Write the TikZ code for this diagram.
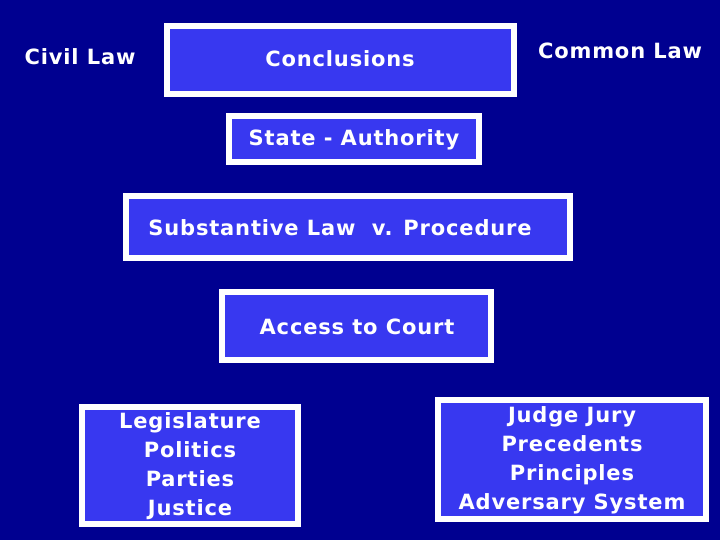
\documentclass[tikz,border=0pt]{standalone}
\usepackage{fontspec}
\setmainfont{DejaVu Sans}[LetterSpace=4]
\definecolor{bg}{HTML}{000090}
\definecolor{boxfill}{HTML}{3838F0}
\begin{document}
\begin{tikzpicture}[x=1pt,y=-1pt,
  bx/.style={draw=white,line width=6pt,fill=boxfill},
  tx/.style={text=white,font=\fontsize{21}{29}\selectfont\bfseries,align=center,inner sep=0pt}]
\fill[bg] (0,0) rectangle (720,540);
\useasboundingbox (0,0) rectangle (720,540);
\draw[bx] (167,26) rectangle (514,94);
\draw[bx] (229,116) rectangle (479,162);
\draw[bx] (126,196) rectangle (570,258);
\draw[bx] (222,292) rectangle (491,360);
\draw[bx] (82,407) rectangle (298,524);
\draw[bx] (438,400) rectangle (706,519);
\node[tx] (civil) at (80,57) {Civil Law};
\node[tx] (concl) at (340,59) {Conclusions};
\node[tx] (common) at (620,51) {Common Law};
\node[tx] (state) at (354,140) {State - Authority};
\node[tx] (subst) at (340,228) {Substantive Law\ \ v. Procedure};
\node[tx] (access) at (357,327) {Access to Court};
\node[tx] (leg) at (190,466) {Legislature\\Politics\\Parties\\Justice};
\node[tx] (judge) at (572,460) {Judge Jury\\Precedents\\Principles\\Adversary System};
\end{tikzpicture}
\end{document}
